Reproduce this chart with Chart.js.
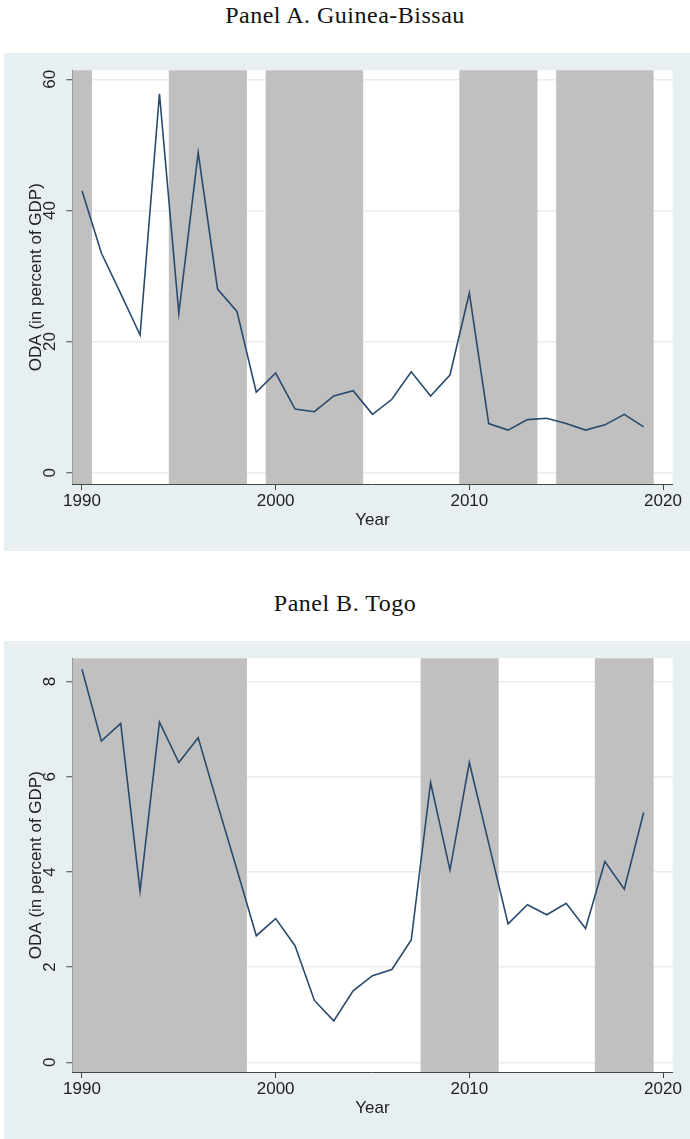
<!DOCTYPE html>
<html>
<head>
<meta charset="utf-8">
<script src="https://cdn.jsdelivr.net/npm/chart.js@4.4.1/dist/chart.umd.min.js"></script>
<style>
  body { margin: 0; background: #fff; }
  .pagina { position: relative; width: 690px; height: 1139px; }
  .titulo {
    position: absolute; left: 0; width: 690px; text-align: center;
    font-family: 'Liberation Serif', 'Times New Roman', serif;
    font-size: 24px; line-height: 24px; letter-spacing: 0.5px; color: #111;
  }
  .painel { position: absolute; left: 4px; width: 686px; height: 498px; background: #e8eff2; }
  canvas { display: block; }
</style>
</head>
<body>
<div class="pagina">
  <div class="titulo" style="top:3px">Panel A. Guinea-Bissau</div>
  <div class="painel" style="top:53px"><canvas id="chartGB" width="686" height="498"></canvas></div>
  <div class="titulo" style="top:591px">Panel B. Togo</div>
  <div class="painel" style="top:641px"><canvas id="chartTogo" width="686" height="498"></canvas></div>
</div>
<script>
// Dados
const anos = [1990, 1991, 1992, 1993, 1994, 1995, 1996, 1997, 1998, 1999,
              2000, 2001, 2002, 2003, 2004, 2005, 2006, 2007, 2008, 2009,
              2010, 2011, 2012, 2013, 2014, 2015, 2016, 2017, 2018, 2019];

const odaGuineaBissau = [43.0, 33.5, 27.3, 21.0, 57.8, 24.3, 48.8, 28.0, 24.6, 12.3,
                         15.2, 9.7, 9.3, 11.7, 12.5, 8.9, 11.2, 15.4, 11.7, 14.9,
                         27.4, 7.5, 6.5, 8.1, 8.3, 7.5, 6.5, 7.3, 8.9, 7.0];

const odaTogo = [8.26, 6.75, 7.12, 3.60, 7.15, 6.30, 6.82, 5.42, 4.05, 2.66,
                 3.02, 2.45, 1.30, 0.87, 1.50, 1.82, 1.95, 2.57, 5.88, 4.04,
                 6.30, 4.60, 2.91, 3.31, 3.10, 3.34, 2.81, 4.22, 3.64, 5.25];

// Faixas cinzas (inicio / fim)
const faixasGBInicio = [1989.5, 1994.5, 1999.5, 2009.5, 2014.5];
const faixasGBFim    = [1990.5, 1998.5, 2004.5, 2013.5, 2019.5];
const faixasTogoInicio = [1989.5, 2007.5, 2016.5];
const faixasTogoFim    = [1998.5, 2011.5, 2019.5];

const ticksX = [1990, 2000, 2010, 2020];
const ticksYGB = [0, 20, 40, 60];
const ticksYTogo = [0, 2, 4, 6, 8];

Chart.defaults.font.family = "'Liberation Sans', Arial, sans-serif";
Chart.defaults.font.size = 17;
Chart.defaults.color = '#222';

// fundo branco da area do grafico
const fundoBranco = {
    id: 'fundoBranco',
    beforeDraw(chart) {
        const { ctx, chartArea: a } = chart;
        ctx.save();
        ctx.fillStyle = '#fff';
        ctx.fillRect(a.left, a.top, a.right - a.left, a.bottom - a.top);
        ctx.restore();
    }
};

function desenhaPainel(id, valores, inicio, fim, ticksY, yMin, yMax, padY) {
    const ctx = document.getElementById(id).getContext('2d');

    new Chart(ctx, {
        type: 'line',
        data: {
            datasets: [{
                type: 'line',
                data: anos.map((a, i) => ({ x: a, y: valores[i] })),
                borderColor: '#2a4a6c',
                borderWidth: 1.6,
                pointRadius: 0,
                tension: 0,
                fill: false,
                order: 0,
                xAxisID: 'x',
                yAxisID: 'y'
            }, {
                type: 'bar',
                indexAxis: 'y',
                data: inicio.map((s, i) => ({ x: [s, fim[i]], y: 'faixa' })),
                backgroundColor: '#c0c0c0',
                borderWidth: 0,
                barPercentage: 1,
                categoryPercentage: 1,
                order: 1,
                xAxisID: 'x',
                yAxisID: 'faixa'
            }]
        },
        options: {
            responsive: false,
            animation: false,
            devicePixelRatio: 1,
            events: [],
            layout: { padding: { top: 17.3, right: 17.3, left: 0, bottom: 0 } },
            plugins: { legend: { display: false }, tooltip: { enabled: false } },
            scales: {
                x: {
                    type: 'linear',
                    min: 1989.5,
                    max: 2020.5,
                    afterBuildTicks: ax => { ax.ticks = ticksX.map(v => ({ value: v })); },
                    afterFit: ax => { ax.height = 67; ax.paddingLeft = 0; ax.paddingRight = 0; },
                    ticks: { callback: v => String(v), autoSkip: false, minRotation: 0, maxRotation: 0, padding: 1 },
                    grid: { drawOnChartArea: false, tickLength: 6, tickColor: '#444', tickWidth: 1 },
                    border: { display: true, color: '#444', width: 1 },
                    title: { display: true, text: 'Year', padding: { top: 0, bottom: 20.8 } }
                },
                y: {
                    type: 'linear',
                    min: yMin,
                    max: yMax,
                    afterBuildTicks: ax => { ax.ticks = ticksY.map(v => ({ value: v })); },
                    afterFit: ax => { ax.width = 68.3; ax.paddingTop = 0; ax.paddingBottom = 0; },
                    ticks: { callback: v => String(v), autoSkip: false, minRotation: 90, maxRotation: 90, crossAlign: 'center', padding: padY },
                    grid: { color: '#e6eef1', lineWidth: 1.5, tickLength: 6, tickColor: '#444', tickWidth: 1 },
                    border: { display: true, color: '#444', width: 1 },
                    title: { display: true, text: 'ODA (in percent of GDP)', padding: { top: 22, bottom: 0 } }
                },
                faixa: { type: 'category', labels: ['faixa'], display: false, offset: true }
            }
        },
        plugins: [fundoBranco]
    });
}

desenhaPainel('chartGB', odaGuineaBissau, faixasGBInicio, faixasGBFim, ticksYGB, -1.72, 61.37, 6.25);
desenhaPainel('chartTogo', odaTogo, faixasTogoInicio, faixasTogoFim, ticksYTogo, -0.204, 8.49, 10.97);
</script>
</body>
</html>
